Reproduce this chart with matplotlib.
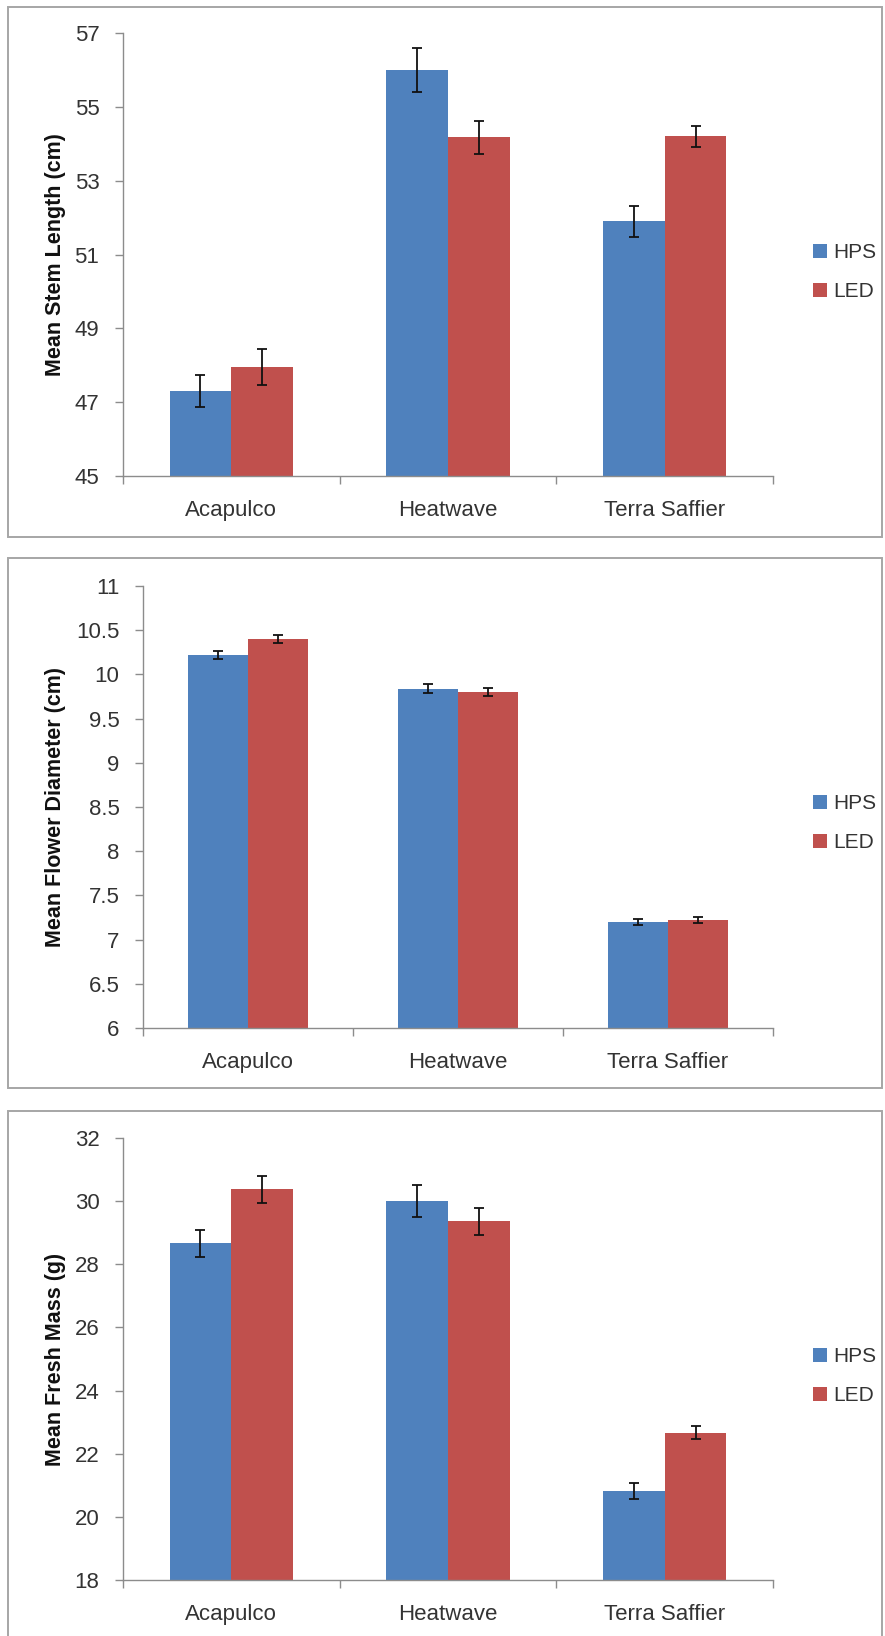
import matplotlib.pyplot as plt
from matplotlib.patches import Rectangle
from matplotlib.ticker import FormatStrFormatter

# Cultivars and treatments
categories = ["Acapulco", "Heatwave", "Terra Saffier"]
series_names = ["HPS", "LED"]

# Mean stem length (cm)
stem_hps = [47.3, 56.0, 51.9]
stem_hps_err = [0.43, 0.6, 0.42]
stem_led = [47.95, 54.17, 54.2]
stem_led_err = [0.48, 0.44, 0.29]

# Mean flower diameter (cm)
diam_hps = [10.22, 9.84, 7.20]
diam_hps_err = [0.05, 0.05, 0.035]
diam_led = [10.40, 9.80, 7.22]
diam_led_err = [0.05, 0.05, 0.03]

# Mean fresh mass (g)
mass_hps = [28.66, 30.01, 20.81]
mass_hps_err = [0.42, 0.5, 0.25]
mass_led = [30.37, 29.36, 22.67]
mass_led_err = [0.44, 0.42, 0.21]

HPS_COLOR = "#4F81BD"
LED_COLOR = "#C0504D"
AXIS_COLOR = "#8C8C8C"
TEXT_COLOR = "#333333"

W, H = 885, 1636

plt.rcParams["font.family"] = ["Liberation Sans", "DejaVu Sans"]


def draw_panel(fig, rect_px, box_px, hps, hps_err, led, led_err,
               ylim, ystep, ylabel, fmt, legend_y):
    left, top, right, bottom = rect_px
    ax = fig.add_axes([left / W, 1 - bottom / H, (right - left) / W, (bottom - top) / H])

    # Border around each chart, like the Excel chart area
    bx0, by0, bx1, by1 = box_px
    fig.patches.append(Rectangle((bx0 / W, 1 - by1 / H), (bx1 - bx0) / W, (by1 - by0) / H,
                                 transform=fig.transFigure, fill=False,
                                 edgecolor="#A6A6A6", linewidth=1.4, zorder=0))

    x = list(range(len(categories)))
    width = 0.285
    err_style = dict(ecolor="#111111", elinewidth=1.3, capsize=3.5, capthick=1.3)
    ax.bar([i - width / 2 for i in x], hps, width, color=HPS_COLOR, label=series_names[0],
           yerr=hps_err, error_kw=err_style, zorder=2)
    ax.bar([i + width / 2 for i in x], led, width, color=LED_COLOR, label=series_names[1],
           yerr=led_err, error_kw=err_style, zorder=2)

    ax.set_xlim(-0.5, len(categories) - 0.5)
    ax.set_ylim(*ylim)
    yt = []
    v = ylim[0]
    while v <= ylim[1] + 1e-9:
        yt.append(v)
        v += ystep
    ax.set_yticks(yt)
    ax.yaxis.set_major_formatter(FormatStrFormatter(fmt))

    ax.set_xticks(x)
    ax.set_xticklabels(categories)
    ax.set_xticks([-0.5, 0.5, 1.5, 2.5], minor=True)
    ax.tick_params(axis="x", which="major", length=0, pad=17, labelsize=16,
                   labelcolor=TEXT_COLOR)
    ax.tick_params(axis="x", which="minor", length=6, width=1, color=AXIS_COLOR, direction="out")
    ax.tick_params(axis="y", length=6, width=1, color=AXIS_COLOR, pad=11, labelsize=16,
                   labelcolor=TEXT_COLOR)

    for side in ["top", "right"]:
        ax.spines[side].set_visible(False)
    for side in ["left", "bottom"]:
        ax.spines[side].set_color(AXIS_COLOR)
        ax.spines[side].set_linewidth(1.0)

    ax.set_ylabel(ylabel, fontsize=15.5, fontweight="bold", color="#111111")
    ax.yaxis.set_label_coords(66 / W, 1 - (top + bottom) / 2 / H, transform=fig.transFigure)

    ax.legend(loc="center left", bbox_to_anchor=(813 / W, 1 - legend_y / H),
              bbox_transform=fig.transFigure, frameon=False, fontsize=15,
              handlelength=0.65, handleheight=0.65, handletextpad=0.3,
              labelspacing=0.95, borderpad=0, borderaxespad=0,
              labelcolor=TEXT_COLOR)
    return ax


fig = plt.figure(figsize=(W / 100, H / 100), dpi=100)

draw_panel(fig, (123, 33, 773, 476), (8, 7, 882, 537),
           stem_hps, stem_hps_err, stem_led, stem_led_err,
           (45, 57), 2, "Mean Stem Length (cm)", "%d", 272)
draw_panel(fig, (143, 586, 773, 1028), (8, 558, 882, 1088),
           diam_hps, diam_hps_err, diam_led, diam_led_err,
           (6, 11), 0.5, "Mean Flower Diameter (cm)", "%g", 823)
draw_panel(fig, (123, 1138, 773, 1580), (8, 1111, 882, 1650),
           mass_hps, mass_hps_err, mass_led, mass_led_err,
           (18, 32), 2, "Mean Fresh Mass (g)", "%d", 1376)

fig.savefig("out.png", dpi=100)
plt.close(fig)
